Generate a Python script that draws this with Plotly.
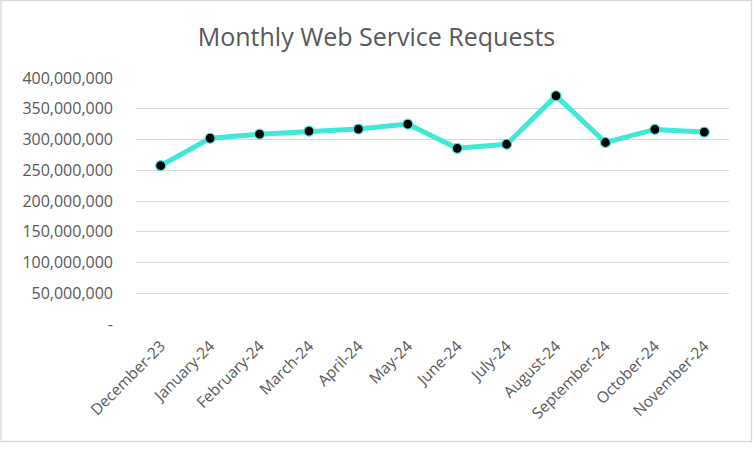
import plotly.graph_objects as go

months = ["December-23", "January-24", "February-24", "March-24", "April-24", "May-24",
          "June-24", "July-24", "August-24", "September-24", "October-24", "November-24"]
requests = [257_500_000, 302_000_000, 308_700_000, 313_600_000, 317_000_000, 325_000_000,
            285_700_000, 292_300_000, 371_000_000, 295_100_000, 316_400_000, 312_000_000]
y_tick_vals = [0, 50_000_000, 100_000_000, 150_000_000, 200_000_000, 250_000_000,
               300_000_000, 350_000_000, 400_000_000]
y_tick_text = ["-", "50,000,000", "100,000,000", "150,000,000", "200,000,000",
               "250,000,000", "300,000,000", "350,000,000", "400,000,000"]

W, H = 753, 452
L, R, T, B = 136, 24, 78, 128
pw, ph = W - L - R, H - T - B

fig = go.Figure()
fig.add_trace(go.Scatter(
    x=months, y=requests, mode="lines+markers",
    line=dict(color="#40E8DA", width=5),
    marker=dict(color="black", size=10, line=dict(color="#40E8DA", width=1.2)),
    showlegend=False, cliponaxis=False,
))

# chart border
fig.add_shape(type="rect", xref="paper", yref="paper",
              x0=(1 - L) / pw, x1=(751.5 - L) / pw,
              y0=(H - B - 441.5) / ph, y1=(H - B - 0.5) / ph,
              line=dict(color="#D9D9D9", width=1.3), fillcolor="rgba(0,0,0,0)", layer="below")

fig.update_layout(
    width=W, height=H,
    margin=dict(l=L, r=R, t=T, b=B),
    paper_bgcolor="white", plot_bgcolor="white",
    title=dict(text="Monthly Web Service Requests", x=0.5, xref="container", xanchor="center",
               y=1 - 37 / H, yanchor="middle",
               font=dict(family="Open Sans", size=25, color="#595959")),
    font=dict(family="Open Sans", color="#595959"),
    xaxis=dict(type="category", tickangle=-45, showgrid=False, showline=False,
               ticks="", tickfont=dict(size=15.5, color="#595959"), fixedrange=True,
               ticklabelstandoff=9,
               range=[-0.5, len(months) - 0.5]),
    yaxis=dict(range=[0, 400_000_000], tickvals=y_tick_vals, ticktext=y_tick_text,
               showgrid=True, gridcolor="#D9D9D9", gridwidth=1.3, zeroline=False,
               showline=False, ticks="", ticklabelstandoff=22,
               tickfont=dict(size=16, color="#595959")),
)

fig.write_html("out.html")
